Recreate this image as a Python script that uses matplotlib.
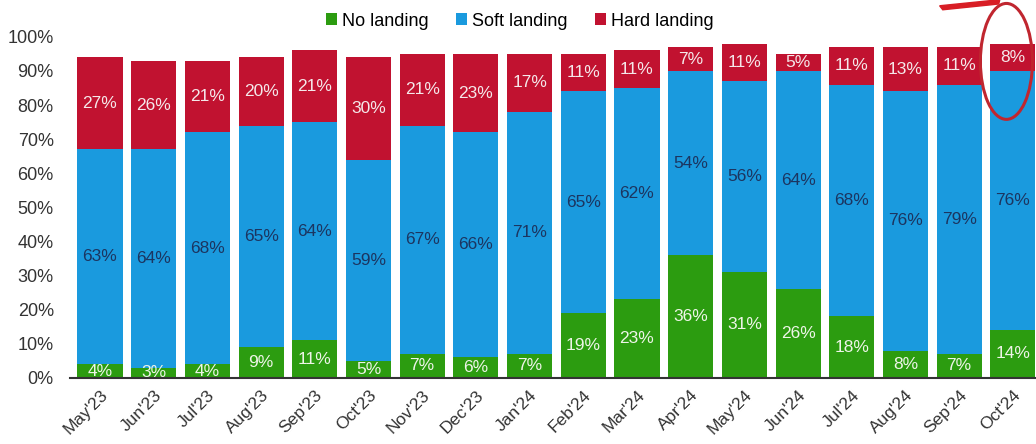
import matplotlib

matplotlib.use("Agg")
import matplotlib.pyplot as plt
import numpy as np
from matplotlib.patches import Ellipse, Polygon

months = ["May'23", "Jun'23", "Jul'23", "Aug'23", "Sep'23", "Oct'23", "Nov'23", "Dec'23", "Jan'24",
          "Feb'24", "Mar'24", "Apr'24", "May'24", "Jun'24", "Jul'24", "Aug'24", "Sep'24", "Oct'24"]
no_landing = [4, 3, 4, 9, 11, 5, 7, 6, 7, 19, 23, 36, 31, 26, 18, 8, 7, 14]
soft_landing = [63, 64, 68, 65, 64, 59, 67, 66, 71, 65, 62, 54, 56, 64, 68, 76, 79, 76]
hard_landing = [27, 26, 21, 20, 21, 30, 21, 23, 17, 11, 11, 7, 11, 5, 11, 13, 11, 8]

GREEN, BLUE, RED = "#2c9c10", "#1a9ade", "#c11230"

plt.rcParams["font.family"] = ["Liberation Sans", "DejaVu Sans"]

fig = plt.figure(figsize=(10.36, 4.44), dpi=100)
ax = fig.add_axes([0.068, 0.149, 0.933, 0.768])

x = np.arange(len(months))
g = np.array(no_landing)
s = np.array(soft_landing)
h = np.array(hard_landing)
w = 0.84
ax.bar(x, g, w, color=GREEN, label="No landing")
ax.bar(x, s, w, bottom=g, color=BLUE, label="Soft landing")
ax.bar(x, h, w, bottom=g + s, color=RED, label="Hard landing")

for i in x:
    ax.text(i, g[i] / 2, f"{g[i]}%", ha="center", va="center", color="#eef5e8", fontsize=12.5)
    ax.text(i, g[i] + s[i] / 2, f"{s[i]}%", ha="center", va="center", color="#1c3560", fontsize=12.5)
    ax.text(i, g[i] + s[i] + h[i] / 2, f"{h[i]}%", ha="center", va="center", color="#f5e8ea", fontsize=12.5)

ax.set_xlim(-0.55, len(months) - 0.55)
ax.set_ylim(0, 100)
ax.set_yticks(np.arange(0, 101, 10))
ax.set_yticklabels([f"{v}%" for v in range(0, 101, 10)], fontsize=13, color="#333333")
ax.set_xticks(x)
ax.set_xticklabels(months, rotation=45, ha="right", rotation_mode="anchor", fontsize=12.5, color="#333333")
ax.tick_params(axis="y", length=0, pad=12)
ax.tick_params(axis="x", length=0, pad=7)
for side in ("top", "right", "left"):
    ax.spines[side].set_visible(False)
ax.spines["bottom"].set_color("#333333")
ax.spines["bottom"].set_linewidth(1.5)

ax.legend(loc="lower center", bbox_to_anchor=(0.465, 0.995), ncol=3, frameon=False, fontsize=13,
          handlelength=0.6, handleheight=0.6, handletextpad=0.3, columnspacing=1.5,
          borderaxespad=0.1)

# highlight on the latest month
ax.add_patch(Ellipse((16.88, 92.8), 0.97, 34, fill=False, edgecolor="#c0262f", lw=2.2, clip_on=False))
fig.patches.append(Polygon([[0.907, 0.987], [0.962, 1.0], [0.965, 1.0], [0.964, 0.991], [0.91, 0.978]],
                           closed=True, color="#d81e25", transform=fig.transFigure))

fig.savefig("out.png", dpi=100)
